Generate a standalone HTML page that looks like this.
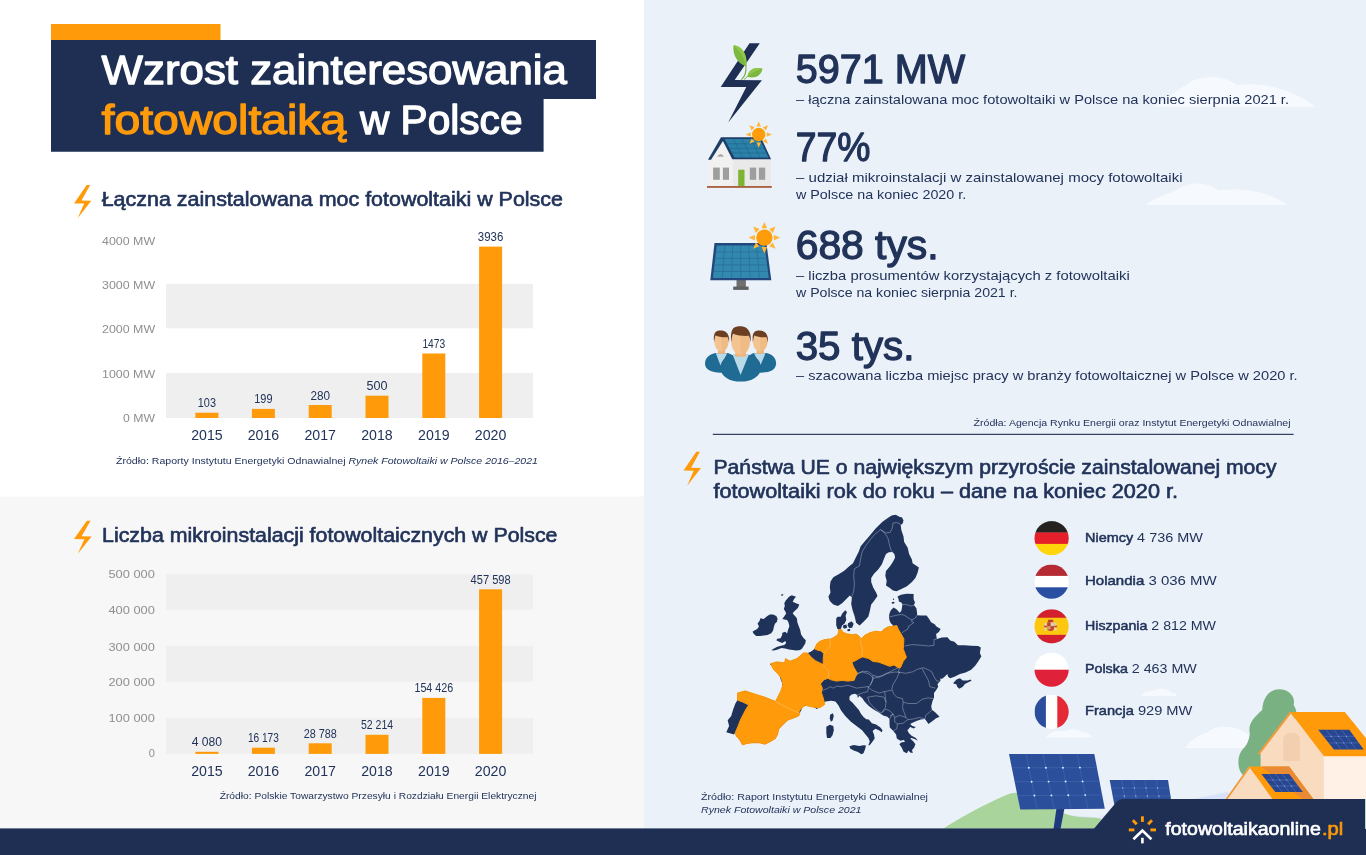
<!DOCTYPE html>
<html lang="pl"><head><meta charset="utf-8"><title>Wzrost zainteresowania fotowoltaiką w Polsce</title>
<style>
html,body{margin:0;padding:0;background:#fff;}
body{width:1366px;height:855px;overflow:hidden;}
svg{display:block;font-family:"Liberation Sans",sans-serif;}
</style></head><body>
<svg width="1366" height="855" viewBox="0 0 1366 855">
<g id="part_base">
<rect x="0" y="0" width="1366" height="855" fill="#ffffff"/>
<rect x="0" y="496.5" width="644" height="340" fill="#f7f7f7"/>
<rect x="644" y="0" width="722" height="855" fill="#eaf1f9"/>
<rect x="51" y="24" width="169.5" height="16" fill="#ff9a0a"/>
<polygon points="51,40 596,40 596,99 543.6,99 543.6,151.7 51,151.7" fill="#1e2f53"/>
<text x="101.6" y="83.5" font-size="40" fill="#ffffff" stroke="#ffffff" stroke-width="1.28" stroke-linejoin="round" textLength="465.4" lengthAdjust="spacingAndGlyphs">Wzrost zainteresowania</text>
<text x="101.6" y="133.5" font-size="40" stroke="#ff9a0a" stroke-width="1.28" stroke-linejoin="round" fill="#ff9a0a" textLength="244.7" lengthAdjust="spacingAndGlyphs">fotowoltaiką</text><text x="360" y="133.5" font-size="40" stroke="#ffffff" stroke-width="1.28" stroke-linejoin="round" fill="#ffffff" textLength="162.5" lengthAdjust="spacingAndGlyphs">w Polsce</text>
<polygon points="86.7,185.0 90.2,185.0 81.5,200.6 91.3,200.7 77.7,218.2 84.1,203.6 74.0,203.4" fill="#ff9a0a"/>
<text x="101.7" y="205.6" font-size="20" fill="#22335a" stroke="#22335a" stroke-width="0.64" stroke-linejoin="round" textLength="461.3" lengthAdjust="spacingAndGlyphs">Łączna zainstalowana moc fotowoltaiki w Polsce</text>
<rect x="166" y="283.8" width="367" height="44.5" fill="#efefef"/>
<rect x="166" y="372.9" width="367" height="45.1" fill="#efefef"/>
<text x="155.1" y="244.8" font-size="11" fill="#8f8f8f" text-anchor="end" textLength="53" lengthAdjust="spacingAndGlyphs">4000 MW</text>
<text x="155.1" y="288.8" font-size="11" fill="#8f8f8f" text-anchor="end" textLength="53" lengthAdjust="spacingAndGlyphs">3000 MW</text>
<text x="155.1" y="332.8" font-size="11" fill="#8f8f8f" text-anchor="end" textLength="53" lengthAdjust="spacingAndGlyphs">2000 MW</text>
<text x="155.1" y="377.6" font-size="11" fill="#8f8f8f" text-anchor="end" textLength="53" lengthAdjust="spacingAndGlyphs">1000 MW</text>
<text x="155.1" y="422.3" font-size="11" fill="#8f8f8f" text-anchor="end" textLength="32" lengthAdjust="spacingAndGlyphs">0 MW</text>
<rect x="195.4" y="412.7" width="23" height="5.3" fill="#ff9a0a"/>
<text x="206.9" y="407.2" font-size="12" fill="#22335a" text-anchor="middle" textLength="18.2" lengthAdjust="spacingAndGlyphs">103</text>
<text x="206.9" y="439.6" font-size="15.5" fill="#22335a" text-anchor="middle" textLength="31.5" lengthAdjust="spacingAndGlyphs">2015</text>
<rect x="251.9" y="408.9" width="23" height="9.1" fill="#ff9a0a"/>
<text x="263.4" y="403.4" font-size="12" fill="#22335a" text-anchor="middle" textLength="18.2" lengthAdjust="spacingAndGlyphs">199</text>
<text x="263.4" y="439.6" font-size="15.5" fill="#22335a" text-anchor="middle" textLength="31.5" lengthAdjust="spacingAndGlyphs">2016</text>
<rect x="308.7" y="405" width="23" height="13.0" fill="#ff9a0a"/>
<text x="320.2" y="399.5" font-size="12" fill="#22335a" text-anchor="middle" textLength="19.6" lengthAdjust="spacingAndGlyphs">280</text>
<text x="320.2" y="439.6" font-size="15.5" fill="#22335a" text-anchor="middle" textLength="31.5" lengthAdjust="spacingAndGlyphs">2017</text>
<rect x="365.5" y="395.7" width="23" height="22.3" fill="#ff9a0a"/>
<text x="377.0" y="390.2" font-size="12" fill="#22335a" text-anchor="middle" textLength="21" lengthAdjust="spacingAndGlyphs">500</text>
<text x="377.0" y="439.6" font-size="15.5" fill="#22335a" text-anchor="middle" textLength="31.5" lengthAdjust="spacingAndGlyphs">2018</text>
<rect x="422.3" y="353.5" width="23" height="64.5" fill="#ff9a0a"/>
<text x="433.8" y="348.0" font-size="12" fill="#22335a" text-anchor="middle" textLength="22.8" lengthAdjust="spacingAndGlyphs">1473</text>
<text x="433.8" y="439.6" font-size="15.5" fill="#22335a" text-anchor="middle" textLength="31.5" lengthAdjust="spacingAndGlyphs">2019</text>
<rect x="479.1" y="246.6" width="23" height="171.4" fill="#ff9a0a"/>
<text x="490.6" y="241.1" font-size="12" fill="#22335a" text-anchor="middle" textLength="25.5" lengthAdjust="spacingAndGlyphs">3936</text>
<text x="490.6" y="439.6" font-size="15.5" fill="#22335a" text-anchor="middle" textLength="31.5" lengthAdjust="spacingAndGlyphs">2020</text>
<text x="116" y="464" font-size="9.3" fill="#22335a" textLength="422" lengthAdjust="spacingAndGlyphs">Źródło: Raporty Instytutu Energetyki Odnawialnej <tspan font-style="italic">Rynek Fotowoltaiki w Polsce 2016–2021</tspan></text>
<polygon points="86.9,520.7 90.5,520.7 81.6,536.3 91.6,536.4 77.8,553.8 84.3,539.2 74.0,539.0" fill="#ff9a0a"/>
<text x="102.1" y="542.1" font-size="20" fill="#22335a" stroke="#22335a" stroke-width="0.64" stroke-linejoin="round" textLength="455.4" lengthAdjust="spacingAndGlyphs">Liczba mikroinstalacji fotowoltaicznych w Polsce</text>
<rect x="166" y="574.4" width="367" height="35.3" fill="#efefef"/>
<rect x="166" y="645.9" width="367" height="35.7" fill="#efefef"/>
<rect x="166" y="718" width="367" height="35.9" fill="#efefef"/>
<text x="154.8" y="578.3" font-size="11" fill="#8f8f8f" text-anchor="end" textLength="46.3" lengthAdjust="spacingAndGlyphs">500 000</text>
<text x="154.8" y="613.5" font-size="11" fill="#8f8f8f" text-anchor="end" textLength="46.3" lengthAdjust="spacingAndGlyphs">400 000</text>
<text x="154.8" y="650.7" font-size="11" fill="#8f8f8f" text-anchor="end" textLength="46.3" lengthAdjust="spacingAndGlyphs">300 000</text>
<text x="154.8" y="685.8" font-size="11" fill="#8f8f8f" text-anchor="end" textLength="46.3" lengthAdjust="spacingAndGlyphs">200 000</text>
<text x="154.8" y="721.5" font-size="11" fill="#8f8f8f" text-anchor="end" textLength="46.3" lengthAdjust="spacingAndGlyphs">100 000</text>
<text x="154.8" y="757.2" font-size="11" fill="#8f8f8f" text-anchor="end">0</text>
<rect x="195.4" y="751.8" width="23" height="2.1" fill="#ff9a0a"/>
<text x="206.9" y="746.3" font-size="12" fill="#22335a" text-anchor="middle" textLength="30.4" lengthAdjust="spacingAndGlyphs">4 080</text>
<text x="206.9" y="775.6" font-size="15.5" fill="#22335a" text-anchor="middle" textLength="31.5" lengthAdjust="spacingAndGlyphs">2015</text>
<rect x="251.9" y="747.7" width="23" height="6.2" fill="#ff9a0a"/>
<text x="263.4" y="742.2" font-size="12" fill="#22335a" text-anchor="middle" textLength="31" lengthAdjust="spacingAndGlyphs">16 173</text>
<text x="263.4" y="775.6" font-size="15.5" fill="#22335a" text-anchor="middle" textLength="31.5" lengthAdjust="spacingAndGlyphs">2016</text>
<rect x="308.7" y="743.3" width="23" height="10.6" fill="#ff9a0a"/>
<text x="320.2" y="737.8" font-size="12" fill="#22335a" text-anchor="middle" textLength="33.1" lengthAdjust="spacingAndGlyphs">28 788</text>
<text x="320.2" y="775.6" font-size="15.5" fill="#22335a" text-anchor="middle" textLength="31.5" lengthAdjust="spacingAndGlyphs">2017</text>
<rect x="365.5" y="734.8" width="23" height="19.1" fill="#ff9a0a"/>
<text x="377.0" y="729.3" font-size="12" fill="#22335a" text-anchor="middle" textLength="32.2" lengthAdjust="spacingAndGlyphs">52 214</text>
<text x="377.0" y="775.6" font-size="15.5" fill="#22335a" text-anchor="middle" textLength="31.5" lengthAdjust="spacingAndGlyphs">2018</text>
<rect x="422.3" y="697.9" width="23" height="56.0" fill="#ff9a0a"/>
<text x="433.8" y="692.4" font-size="12" fill="#22335a" text-anchor="middle" textLength="38.7" lengthAdjust="spacingAndGlyphs">154 426</text>
<text x="433.8" y="775.6" font-size="15.5" fill="#22335a" text-anchor="middle" textLength="31.5" lengthAdjust="spacingAndGlyphs">2019</text>
<rect x="479.1" y="589.3" width="23" height="164.6" fill="#ff9a0a"/>
<text x="490.6" y="583.8" font-size="12" fill="#22335a" text-anchor="middle" textLength="40.1" lengthAdjust="spacingAndGlyphs">457 598</text>
<text x="490.6" y="775.6" font-size="15.5" fill="#22335a" text-anchor="middle" textLength="31.5" lengthAdjust="spacingAndGlyphs">2020</text>
<text x="219.7" y="799.3" font-size="9.3" fill="#22335a" textLength="316.8" lengthAdjust="spacingAndGlyphs">Źródło: Polskie Towarzystwo Przesyłu i Rozdziału Energii Elektrycznej</text>
</g>
<g id="part_clouds">
<path d="M1153.6 106.7C1164.3 99.9 1175.9 91.2 1185.7 85.3C1197.4 74.6 1222.7 73.6 1237.3 85.3C1255.8 82.4 1287.0 85.3 1315.2 106.7Z" fill="#f6fafe"/>
<path d="M1145.8 205.1C1156.5 196.3 1168.2 194.4 1177.9 189.5C1187.6 181.7 1205.2 180.7 1218.8 190.5C1240.2 187.6 1267.5 190.5 1287.9 205.1Z" fill="#f6fafe"/>
</g>
<g id="part_map">
<polygon points="726.3,732.3 729.1,725.9 727.7,720.3 731.2,716.1 733.3,709.1 735.4,703.5 737.5,700.0 737.5,693.0 745.3,690.9 753.7,693.7 764.9,697.2 775.4,701.4 778.9,695.1 781.7,690.2 782.4,683.8 780.3,678.2 778.9,672.6 775.4,667.7 769.8,664.2 770.8,663.5 776.5,661.9 784.7,662.7 785.5,658.6 788.0,660.2 790.4,661.1 797.0,658.6 803.5,652.9 807.7,653.0 811.2,651.6 814.7,648.8 816.8,643.9 819.6,641.5 824.6,639.6 830.2,638.9 833.7,637.5 837.9,634.7 839.0,629.8 837.3,628.8 836.2,624.9 836.2,618.6 837.6,616.8 840.7,616.8 842.1,613.7 845.2,610.2 847.0,612.0 845.6,615.8 846.3,620.0 844.6,623.5 842.1,625.6 841.0,628.8 840.7,629.1 843.5,632.6 847.7,634.0 853.3,634.7 856.1,634.0 858.9,636.1 861.1,638.9 864.6,635.4 870.2,632.6 875.8,631.2 881.4,631.9 884.2,629.1 887.7,627.0 892.6,626.3 893.2,625.4 890.8,623.2 889.4,620.1 889.0,616.6 889.4,613.8 890.8,610.3 893.6,607.5 896.8,609.6 899.6,612.7 901.3,611.0 902.0,607.5 902.4,604.3 901.3,602.5 898.9,601.5 898.5,599.0 897.5,596.6 901.0,594.8 906.6,593.8 913.6,594.1 913.6,599.0 915.0,602.5 913.9,605.0 916.4,608.2 917.1,613.1 917.1,615.2 921.3,615.5 926.6,615.5 929.0,618.7 931.1,622.2 935.0,624.6 936.1,626.3 940.6,629.1 938.9,631.9 936.1,634.0 936.8,638.9 941.8,637.5 947.4,637.3 950.2,640.4 954.4,641.8 957.9,645.3 964.2,645.3 971.2,645.7 978.2,646.0 980.8,647.4 979.9,653.0 981.3,656.5 978.2,661.4 975.4,665.6 971.2,669.8 965.6,672.6 960.0,674.0 954.4,676.8 950.2,678.2 948.1,676.8 947.4,674.0 944.6,676.8 941.8,678.9 940.4,678.2 940.4,681.1 937.5,683.9 938.2,686.7 936.1,690.2 934.0,693.0 934.0,697.9 932.6,700.7 931.2,706.3 931.9,709.8 935.4,712.6 939.6,716.8 936.1,718.2 932.6,721.1 928.4,723.9 927.0,721.8 924.9,718.9 920.7,719.6 916.5,721.1 913.0,722.5 910.2,723.9 912.3,726.0 915.8,727.1 913.7,728.5 910.2,727.1 908.8,728.8 907.4,730.2 908.8,733.0 911.6,735.8 915.8,737.9 917.9,740.7 915.1,739.3 911.6,737.9 910.2,738.6 913.4,741.4 915.4,744.2 914.0,747.7 912.0,750.1 912.8,752.9 910.2,752.6 908.4,750.5 906.9,753.2 903.6,751.8 901.8,747.7 899.4,744.2 901.1,742.5 905.0,741.8 903.9,740.0 900.4,740.7 896.8,738.6 896.1,734.4 893.3,730.9 889.8,727.4 889.5,723.2 889.5,718.9 887.4,716.8 883.2,715.4 878.9,712.6 874.0,709.8 869.1,706.3 864.9,702.1 862.1,697.9 859.3,695.8 857.9,697.9 857.2,695.1 855.1,693.7 851.6,694.4 849.5,696.5 849.5,700.0 852.6,702.8 855.8,706.6 858.9,710.0 861.1,714.0 863.8,717.3 866.3,719.2 868.8,719.6 871.9,723.2 876.1,724.6 880.4,727.4 882.5,730.2 881.8,732.3 878.9,730.2 875.4,728.8 872.6,730.9 874.0,734.4 874.7,738.6 872.6,741.4 870.5,744.2 869.1,745.6 868.4,744.9 869.8,741.4 868.4,737.9 864.9,733.7 862.1,730.2 856.5,726.0 850.9,721.8 845.3,716.1 841.1,710.5 838.2,704.9 835.4,701.4 831.2,700.7 825.6,701.4 822.1,704.2 821.0,706.3 816.8,709.1 812.6,706.3 807.0,704.9 802.8,707.0 800.0,712.6 798.6,716.1 793.0,718.2 787.3,720.3 783.1,724.5 778.9,728.7 777.5,734.4 775.4,738.6 770.5,741.4 764.9,744.2 759.3,742.8 752.3,742.8 746.7,743.5 742.4,744.9 740.3,740.7 736.1,735.8 735.4,732.3 734.0,734.4" fill="#1f3259"/>
<polygon points="833.3,604.6 829.8,601.1 828.4,596.8 830.5,592.6 829.8,587.0 830.5,581.4 833.3,577.2 838.2,574.4 843.9,570.9 849.5,566.0 853.0,563.2 855.8,557.5 858.6,551.9 860.7,546.3 864.2,542.1 867.7,537.9 871.9,533.0 875.4,528.8 878.9,525.3 882.5,521.8 887.4,518.2 891.6,515.4 895.8,514.7 899.3,516.8 902.1,517.5 903.5,520.4 902.8,523.2 900.7,525.3 901.4,530.2 903.5,536.5 904.2,542.1 907.7,547.7 909.1,554.0 911.9,559.6 912.6,563.2 918.9,567.4 917.5,573.0 915.4,577.9 911.9,582.1 907.0,586.3 901.4,589.1 896.5,591.2 893.0,590.5 889.5,587.7 886.0,585.6 886.7,580.7 885.3,575.8 886.0,570.9 890.2,566.0 893.0,561.8 895.1,557.5 894.4,554.0 892.3,551.9 888.8,552.2 886.0,554.0 883.9,558.9 881.8,564.6 878.2,569.5 874.0,573.7 871.2,577.9 871.2,582.1 873.3,587.7 876.1,592.6 877.5,596.1 874.0,601.1 871.2,604.6 869.8,610.9 868.4,616.5 866.0,619.3 862.5,622.8 859.6,625.6 856.1,622.8 854.7,616.5 852.6,610.2 851.2,603.9 851.9,597.5 849.8,595.4 846.3,598.9 842.1,603.2 837.9,606.0" fill="#1f3259"/>
<polygon points="843.2,625.2 846.3,624.4 847.3,627.4 844.6,628.7 842.9,627.4" fill="#1f3259"/>
<polygon points="848.0,623.2 851.6,621.3 853.6,623.8 852.2,627.7 849.1,628.0 847.7,625.6" fill="#1f3259"/>
<polygon points="847.2,629.4 850.2,628.8 850.0,631.1 847.7,631.2" fill="#1f3259"/>
<polygon points="891.5,602.5 893.2,601.8 894.8,602.2 893.9,603.4 892.2,603.8" fill="#1f3259"/>
<polygon points="892.9,598.7 893.8,598.5 894.1,599.9 893.1,600.1" fill="#1f3259"/>
<polygon points="789.0,596.7 791.8,595.3 796.0,596.7 794.1,599.0 792.7,601.8 796.0,603.2 799.3,604.6 797.9,607.9 795.5,610.3 793.6,612.1 792.7,613.5 795.0,615.9 796.9,618.2 797.4,622.4 798.8,626.2 800.2,629.9 801.1,634.6 803.5,637.9 805.8,640.2 805.3,643.5 803.5,646.3 802.1,648.6 800.2,650.0 796.4,650.5 792.7,650.0 789.0,649.5 785.2,648.6 781.5,648.1 777.7,649.5 774.0,650.5 771.2,650.3 774.0,648.6 777.3,646.7 781.0,645.8 784.3,644.9 786.2,643.0 785.2,641.1 782.4,643.0 779.6,642.1 776.3,640.2 777.3,638.8 780.5,638.3 782.0,635.5 782.4,632.7 785.2,631.8 787.1,633.6 788.0,629.9 789.4,626.2 788.5,622.4 787.1,620.1 784.3,619.6 782.4,619.1 784.3,616.3 786.2,613.5 785.2,611.2 783.8,608.9 784.8,606.0 784.3,603.2 785.7,600.4 787.6,598.6" fill="#1f3259"/>
<polygon points="781.0,594.8 782.9,593.9 783.4,595.1 781.7,596.0" fill="#1f3259"/>
<polygon points="752.5,631.8 754.4,630.4 757.2,629.0 759.0,626.6 757.6,623.4 759.5,621.0 760.4,618.2 763.7,619.1 767.0,616.3 769.8,614.5 773.1,614.5 776.3,615.9 777.6,618.7 776.8,622.0 774.9,623.8 774.0,626.6 773.1,630.4 771.2,633.2 767.5,635.0 763.7,635.5 760.0,636.0 756.2,636.0 753.9,634.1" fill="#1f3259"/>
<polygon points="830.1,714.7 832.9,713.3 833.8,716.1 832.6,720.4 830.9,721.8 829.8,718.2" fill="#1f3259"/>
<polygon points="826.3,726.7 829.8,724.8 833.3,726.0 833.8,730.2 832.6,735.1 830.5,737.9 827.0,737.9 826.3,733.0" fill="#1f3259"/>
<polygon points="849.5,746.3 853.7,744.9 859.3,745.9 863.5,745.3 866.0,745.6 864.9,749.8 863.5,753.3 861.4,754.3 857.9,751.9 853.7,750.5 850.2,748.4" fill="#1f3259"/>
<polygon points="953.0,683.2 956.5,679.6 960.0,678.2 962.8,680.4 967.7,680.4 970.5,679.4 971.5,680.8 968.4,682.2 964.9,683.9 962.8,686.7 959.3,688.8 957.2,686.7 956.5,684.6" fill="#1f3259"/>
<path d="M851.6 596.8 L853.7 591.2 L854.4 584.2 L853.7 575.8 L854.4 568.8 L859.3 566.0 L860.7 558.9 L862.1 551.9 L866.3 544.9 L870.5 539.3 L874.7 534.4 L878.2 531.6 L880.4 529.5 L885.3 533.7 L888.1 538.6 L889.5 544.9 L890.9 549.8 L892.3 551.9 M880.4 529.5 L886.0 533.0 L890.2 532.3 L892.3 528.1 L893.0 523.2 L896.5 522.5 L900.0 523.9 L900.7 525.3 M902.4 604.3 L906.6 604.6 L910.8 606.1 L913.9 605.4 M889.4 616.9 L893.9 615.9 L898.9 614.8 L902.4 614.5 L905.9 616.2 L909.4 618.7 L912.2 619.7 L915.4 618.0 L917.1 615.2 M912.2 619.7 L911.5 621.5 L913.9 622.5 L911.5 624.3 L908.7 626.1 L908.0 628.9 L904.5 631.0 L902.0 632.7 M904.6 646.0 L912.3 644.6 L922.1 645.3 L928.4 646.0 L934.0 645.3 L934.0 639.6 L936.8 638.9 M899.6 667.7 L898.2 671.9 L905.3 673.3 L912.3 671.9 L917.9 669.1 L923.5 667.7 L928.4 669.8 L931.9 671.9 L934.0 676.8 L936.8 681.1 L939.6 681.1 M922.1 668.4 L924.9 674.0 L928.4 680.4 L929.8 686.7 L935.4 688.1 M903.2 702.1 L908.1 703.5 L916.5 703.5 L922.1 699.3 L927.7 697.9 L934.0 698.6 M899.6 671.9 L896.8 678.2 L892.6 685.3 L891.9 689.5 L894.0 694.4 L896.8 697.2 L902.5 698.6 L903.2 702.1 L902.5 707.7 L903.9 711.9 L906.0 717.5 M931.9 709.8 L929.1 712.6 L925.6 715.4 L924.9 718.9 L919.3 717.5 L913.7 718.9 L908.1 719.6 L906.0 717.5 L899.6 715.4 L894.7 717.5 L894.7 721.8 L897.5 723.9 L903.2 723.2 L906.7 720.4 L908.1 719.6 M889.8 716.1 L893.3 714.0 L894.7 717.5 M897.5 723.9 L896.8 728.8 L893.3 730.9 M822.8 690.2 L827.0 688.8 L829.8 686.7 L833.3 688.1 L836.8 686.0 L840.4 686.7 L848.1 685.3 L856.5 688.1 L862.1 687.4 L867.7 686.7 M854.4 675.4 L862.1 671.9 L869.1 674.0 L873.3 678.2 L871.2 683.2 L869.1 686.7 L867.7 686.7 L868.4 687.4 L867.7 691.6 L862.1 693.0 L857.2 695.1 M873.3 678.2 L880.4 676.8 L887.4 673.3 L895.8 671.9 L900.0 672.6 M867.7 686.7 L871.9 690.2 L878.9 693.0 L884.6 691.6 L891.6 690.2 M867.7 697.2 L876.1 695.8 L883.9 697.2 L886.0 702.1 L885.3 707.7 L881.8 712.6 L878.9 711.9 M867.7 697.2 L869.1 702.1 L874.0 707.7 L878.9 711.9 M884.6 691.6 L885.3 696.5 L886.0 702.1 M881.8 712.6 L886.0 709.1 L890.2 711.2 L893.0 714.0 L889.5 718.9 M854.0 680.4 L855.4 676.8 L857.5 673.3 L863.2 671.2 L868.8 671.9 L873.0 675.4 L878.6 676.8 L884.2 674.7 L889.8 671.9 L895.4 669.1 L898.2 667.7 M873.0 675.4 L872.3 681.1 L870.2 685.3 M828.1 678.2 L823.9 679.6 L820.4 683.9 M737.5 700.0 L743.1 702.1 L748.8 704.9" fill="none" stroke="#c3cce0" stroke-width="0.5" stroke-linejoin="round" opacity="0.85"/>
<polygon points="737.5,693.0 745.3,690.9 753.7,693.7 764.9,697.2 775.4,701.4 781.7,704.9 790.1,709.1 796.5,711.9 800.0,713.3 798.6,716.1 793.0,718.2 787.3,720.3 783.1,724.5 778.9,728.7 777.5,734.4 775.4,738.6 770.5,741.4 764.9,744.2 759.3,742.8 752.3,742.8 746.7,743.5 742.4,744.9 740.3,740.7 736.1,735.8 735.4,732.3 738.2,725.9 740.3,720.3 743.1,714.7 746.0,709.1 748.8,704.9 743.1,702.1 737.5,700.0" fill="#ff9a0a" stroke="#ff9a0a" stroke-width="1" stroke-linejoin="round"/>
<polygon points="770.8,663.5 776.5,661.9 784.7,662.7 785.5,658.6 788.0,660.2 790.4,661.1 797.0,658.6 803.5,652.9 807.7,653.0 811.2,657.2 815.4,660.7 819.6,662.8 822.5,664.2 825.3,667.7 828.8,671.2 828.1,678.2 823.9,679.6 820.4,683.9 822.3,688.1 821.5,693.0 823.2,697.9 824.8,704.4 819.9,707.7 811.7,706.9 805.1,705.3 800.2,709.4 798.6,712.6 792.0,711.0 785.5,708.5 778.9,704.4 775.7,701.2 780.6,691.3 783.0,684.8 781.4,678.2 777.3,673.3 773.2,669.2" fill="#ff9a0a" stroke="#ff9a0a" stroke-width="1" stroke-linejoin="round"/>
<polygon points="814.7,648.8 816.8,643.9 819.6,641.5 824.6,639.6 830.2,638.9 830.2,646.0 827.4,649.5 823.9,653.0 823.2,653.0 821.1,650.9 817.5,650.2" fill="#ff9a0a" stroke="#ff9a0a" stroke-width="1" stroke-linejoin="round"/>
<polygon points="830.2,639.6 833.7,637.5 837.9,634.7 839.0,629.8 840.7,629.1 843.5,632.6 847.7,634.0 853.3,634.7 856.1,634.0 858.9,636.1 861.1,638.9 860.6,643.2 862.5,648.8 861.8,654.4 862.5,656.9 858.9,658.6 855.4,660.7 851.9,662.1 853.3,666.3 856.1,671.2 857.5,673.3 855.4,676.8 854.0,680.4 847.7,681.1 842.1,680.4 836.5,681.1 830.2,679.6 828.1,678.2 828.8,671.2 825.3,667.7 823.2,664.2 823.2,658.6 823.9,653.0 827.4,649.5 830.2,646.0" fill="#ff9a0a" stroke="#ff9a0a" stroke-width="1" stroke-linejoin="round"/>
<polygon points="861.1,638.9 864.6,635.4 870.2,632.6 875.8,631.2 881.4,631.9 884.2,629.1 887.7,627.0 892.6,626.3 896.8,625.6 898.2,629.1 901.1,634.0 903.9,638.9 903.6,644.6 903.2,648.8 905.3,654.4 906.4,657.2 903.2,661.4 900.4,667.7 898.2,667.7 894.0,664.9 889.8,666.3 884.2,664.2 878.6,662.1 873.0,661.4 868.8,658.6 862.5,656.9 861.8,654.4 862.5,648.8 860.6,643.2" fill="#ff9a0a" stroke="#ff9a0a" stroke-width="1" stroke-linejoin="round"/>
<path d="M775.4 701.4 L781.7 704.9 L790.1 709.1 L796.5 711.9 L800.0 713.3 M822.5 664.2 L825.3 667.7 L828.8 671.2 L828.1 678.2 M830.2 638.9 L830.2 646.0 L827.4 649.5 L823.9 653.0 M861.1 638.9 L860.6 643.2 L862.5 648.8 L861.8 654.4 L862.5 656.9" fill="none" stroke="#ffd9a0" stroke-width="0.45" stroke-linejoin="round" opacity="0.9"/>
</g>
<g id="part_illus">
<path d="M1141.1 696.0C1144.6 691.6 1149.0 689.6 1154.9 690.7C1159.3 687.2 1168.0 687.8 1171.0 692.5C1174.5 692.5 1176.8 694.2 1177.4 696.0Z" fill="#f6fafe"/>
<path d="M1045.6 737.6C1049.5 732.6 1056.8 729.7 1064.1 731.7C1068.5 728.2 1078.7 728.2 1083.1 732.6C1087.5 732.6 1091.3 734.6 1092.5 737.6Z" fill="#f6fafe"/>
<path d="M1185.0 748.1C1190.0 739.9 1200.3 734.1 1210.5 731.7C1217.8 726.7 1231.0 726.7 1238.3 731.7C1244.2 731.7 1249.5 735.5 1251.5 739.9L1251.5 748.1Z" fill="#f6fafe"/>
<path d="M1200.0 746.9L1200.0 736.3C1204.1 735.5 1207.4 733.0 1209.8 730.6C1216.4 725.7 1232.7 724.8 1243.4 731.4C1247.5 733.0 1249.9 735.5 1249.9 738.8C1249.9 743.7 1247.5 746.9 1244.2 746.9Z" fill="#f6fafe"/>
<path d="M1063.0 817.5C1073.5 814.3 1084.1 816.4 1098.1 817.5C1108.7 812.6 1122.7 807.3 1133.3 803.8L1133.3 828.4L1063.0 828.4Z" fill="#dfe7fb"/>
<path d="M1190.2 799.3C1203.3 796.9 1216.4 794.4 1227.8 792.0L1232.7 801.0L1190.2 801.0Z" fill="#d9e2fb"/>
<path d="M943.5 828.4C966.4 814.3 992.7 800.3 1010.3 793.6C1022.6 789.7 1038.4 800.3 1054.2 809.1C1066.5 816.1 1078.8 817.8 1094.6 817.8C1101.6 817.8 1106.9 821.4 1112.2 828.4Z" fill="#a9d49b"/>
<path d="M1279.4 689.3C1289.2 689.3 1295.8 697.0 1293.6 705.2C1298.2 710.9 1296.6 719.1 1291.7 724.0L1291.7 774.8L1242.6 774.8C1236.8 768.2 1236.8 755.1 1243.4 748.6C1247.5 744.5 1249.1 738.8 1249.9 733.9C1247.5 724.0 1254.0 717.5 1262.2 710.1C1263.0 696.2 1270.4 689.3 1279.4 689.3Z" fill="#79b183"/>
<polygon points="1258.1,753.8 1290.0,712.2 1323.9,756.3 1323.9,801.0 1260.6,801.0 1260.6,753.8" fill="#f9dcc0"/>
<polygon points="1257.6,753.8 1289.7,711.9 1291.0,713.5 1259.9,754.2" fill="#f09a3a"/>
<rect x="1323.9" y="756.0" width="43.1" height="45.0" fill="#fff1e6"/>
<polygon points="1290.0,711.9 1344.9,711.9 1367.0,739.6 1367.0,756.3 1323.9,756.3" fill="#ff9a0a"/>
<path d="M1283.2 760.9L1283.2 740.4C1283.2 734.7 1286.8 732.7 1291.5 732.7C1296.6 732.7 1299.9 734.7 1299.9 740.4L1299.9 760.9Z" fill="#f2cfae"/>
<polygon points="1226.2,798.5 1249.1,766.6 1272.0,798.5 1272.0,801.0 1226.2,801.0" fill="#f9dcc0"/>
<polygon points="1249.1,766.6 1289.2,766.6 1313.0,798.5 1313.0,801.0 1272.0,801.0 1272.0,798.5" fill="#ff9a0a"/>
<polygon points="1261.4,766.6 1289.2,766.6 1313.0,798.5 1313.0,801.0 1304.8,801.0" fill="#e98a35"/>
<polygon points="1225.7,798.8 1248.8,766.6 1250.1,767.7 1227.5,799.3" fill="#f09a3a"/>
<polygon points="1318.2,729.8 1349.3,729.8 1363.7,749.4 1333.9,749.4" fill="#27468f"/>
<line x1="1326.0" y1="729.8" x2="1341.4" y2="749.4" stroke="#5b7cc4" stroke-width="0.5"/>
<line x1="1333.8" y1="729.8" x2="1348.8" y2="749.4" stroke="#5b7cc4" stroke-width="0.5"/>
<line x1="1341.5" y1="729.8" x2="1356.2" y2="749.4" stroke="#5b7cc4" stroke-width="0.5"/>
<line x1="1323.4" y1="736.3" x2="1354.1" y2="736.3" stroke="#5b7cc4" stroke-width="0.5"/>
<line x1="1328.7" y1="742.9" x2="1358.9" y2="742.9" stroke="#5b7cc4" stroke-width="0.5"/>
<circle cx="1331.1" cy="736.3" r="0.45" fill="#e8f0ff"/>
<circle cx="1336.2" cy="742.9" r="0.45" fill="#e8f0ff"/>
<circle cx="1338.8" cy="736.3" r="0.45" fill="#e8f0ff"/>
<circle cx="1343.8" cy="742.9" r="0.45" fill="#e8f0ff"/>
<circle cx="1346.4" cy="736.3" r="0.45" fill="#e8f0ff"/>
<circle cx="1351.3" cy="742.9" r="0.45" fill="#e8f0ff"/>
<polygon points="1261.4,774.0 1289.2,774.0 1302.8,792.0 1275.3,792.0" fill="#27468f"/>
<line x1="1268.4" y1="774.0" x2="1282.2" y2="792.0" stroke="#5b7cc4" stroke-width="0.5"/>
<line x1="1275.3" y1="774.0" x2="1289.0" y2="792.0" stroke="#5b7cc4" stroke-width="0.5"/>
<line x1="1282.2" y1="774.0" x2="1295.9" y2="792.0" stroke="#5b7cc4" stroke-width="0.5"/>
<line x1="1266.0" y1="780.0" x2="1293.7" y2="780.0" stroke="#5b7cc4" stroke-width="0.5"/>
<line x1="1270.7" y1="786.0" x2="1298.3" y2="786.0" stroke="#5b7cc4" stroke-width="0.5"/>
<circle cx="1273.0" cy="780.0" r="0.45" fill="#e8f0ff"/>
<circle cx="1277.6" cy="786.0" r="0.45" fill="#e8f0ff"/>
<circle cx="1279.9" cy="780.0" r="0.45" fill="#e8f0ff"/>
<circle cx="1284.5" cy="786.0" r="0.45" fill="#e8f0ff"/>
<circle cx="1286.8" cy="780.0" r="0.45" fill="#e8f0ff"/>
<circle cx="1291.4" cy="786.0" r="0.45" fill="#e8f0ff"/>
<polygon points="1056.5,808 1064.5,808 1060.5,829 1053.5,829" fill="#1f3b7d"/>
<polygon points="1009,753.9 1094.3,753.9 1104.8,808.7 1020.3,809.6" fill="#2c4f9b"/>
<line x1="1026.1" y1="753.9" x2="1037.2" y2="809.4" stroke="#4a6fb8" stroke-width="0.5"/>
<line x1="1043.1" y1="753.9" x2="1054.1" y2="809.2" stroke="#4a6fb8" stroke-width="0.5"/>
<line x1="1060.2" y1="753.9" x2="1071.0" y2="809.1" stroke="#4a6fb8" stroke-width="0.5"/>
<line x1="1077.2" y1="753.9" x2="1087.9" y2="808.9" stroke="#4a6fb8" stroke-width="0.5"/>
<line x1="1011.8" y1="767.8" x2="1096.9" y2="767.6" stroke="#4a6fb8" stroke-width="0.5"/>
<line x1="1014.6" y1="781.8" x2="1099.5" y2="781.3" stroke="#4a6fb8" stroke-width="0.5"/>
<line x1="1017.5" y1="795.7" x2="1102.2" y2="795.0" stroke="#4a6fb8" stroke-width="0.5"/>
<circle cx="1028.8" cy="767.8" r="0.95" fill="#e8f0ff"/>
<circle cx="1031.6" cy="781.7" r="0.95" fill="#e8f0ff"/>
<circle cx="1034.4" cy="795.5" r="0.95" fill="#e8f0ff"/>
<circle cx="1045.9" cy="767.7" r="0.95" fill="#e8f0ff"/>
<circle cx="1048.6" cy="781.6" r="0.95" fill="#e8f0ff"/>
<circle cx="1051.4" cy="795.4" r="0.95" fill="#e8f0ff"/>
<circle cx="1062.9" cy="767.7" r="0.95" fill="#e8f0ff"/>
<circle cx="1065.6" cy="781.5" r="0.95" fill="#e8f0ff"/>
<circle cx="1068.3" cy="795.3" r="0.95" fill="#e8f0ff"/>
<circle cx="1079.9" cy="767.6" r="0.95" fill="#e8f0ff"/>
<circle cx="1082.6" cy="781.4" r="0.95" fill="#e8f0ff"/>
<circle cx="1085.2" cy="795.1" r="0.95" fill="#e8f0ff"/>
<polygon points="1109.7,780 1168,780 1173,812 1115.7,812" fill="#2c4f9b"/>
<line x1="1121.4" y1="780.0" x2="1127.2" y2="812.0" stroke="#4a6fb8" stroke-width="0.5"/>
<line x1="1133.0" y1="780.0" x2="1138.6" y2="812.0" stroke="#4a6fb8" stroke-width="0.5"/>
<line x1="1144.7" y1="780.0" x2="1150.1" y2="812.0" stroke="#4a6fb8" stroke-width="0.5"/>
<line x1="1156.3" y1="780.0" x2="1161.5" y2="812.0" stroke="#4a6fb8" stroke-width="0.5"/>
<line x1="1111.2" y1="788.0" x2="1169.2" y2="788.0" stroke="#4a6fb8" stroke-width="0.5"/>
<line x1="1112.7" y1="796.0" x2="1170.5" y2="796.0" stroke="#4a6fb8" stroke-width="0.5"/>
<line x1="1114.2" y1="804.0" x2="1171.8" y2="804.0" stroke="#4a6fb8" stroke-width="0.5"/>
<circle cx="1122.8" cy="788.0" r="0.6" fill="#e8f0ff"/>
<circle cx="1124.3" cy="796.0" r="0.6" fill="#e8f0ff"/>
<circle cx="1125.7" cy="804.0" r="0.6" fill="#e8f0ff"/>
<circle cx="1134.4" cy="788.0" r="0.6" fill="#e8f0ff"/>
<circle cx="1135.8" cy="796.0" r="0.6" fill="#e8f0ff"/>
<circle cx="1137.2" cy="804.0" r="0.6" fill="#e8f0ff"/>
<circle cx="1146.0" cy="788.0" r="0.6" fill="#e8f0ff"/>
<circle cx="1147.4" cy="796.0" r="0.6" fill="#e8f0ff"/>
<circle cx="1148.7" cy="804.0" r="0.6" fill="#e8f0ff"/>
<circle cx="1157.6" cy="788.0" r="0.6" fill="#e8f0ff"/>
<circle cx="1158.9" cy="796.0" r="0.6" fill="#e8f0ff"/>
<circle cx="1160.2" cy="804.0" r="0.6" fill="#e8f0ff"/>
</g>
<g id="part_footer">
<rect x="0" y="828.4" width="1366" height="27" fill="#1e2f53"/>
<rect x="1364.8" y="798.8" width="1.2" height="30" fill="#b9dcc0"/>
<path d="M1093.7,829 L1117,801.5 Q1119,799 1123,799 L1365,799 L1365,829 Z" fill="#1e2f53"/>
<line x1="1134.4" y1="829.9" x2="1128.8" y2="829.9" stroke="#ff9a0a" stroke-width="2.9"/>
<line x1="1136.7" y1="824.2" x2="1132.8" y2="820.3" stroke="#ff9a0a" stroke-width="2.9"/>
<line x1="1142.4" y1="821.9" x2="1142.4" y2="816.3" stroke="#ff9a0a" stroke-width="2.9"/>
<line x1="1148.1" y1="824.2" x2="1152.0" y2="820.3" stroke="#ff9a0a" stroke-width="2.9"/>
<line x1="1150.4" y1="829.9" x2="1156.0" y2="829.9" stroke="#ff9a0a" stroke-width="2.9"/>
<polyline points="1133.4,839.3 1142.4,830.6 1151.4,839.3" fill="none" stroke="#ffffff" stroke-width="2.6" stroke-linejoin="miter"/>
<rect x="1141.1" y="837.8" width="2.6" height="5.6" fill="#ffffff"/>
<text x="1165.3" y="835.3" font-size="18" stroke="#ffffff" stroke-width="0.65" stroke-linejoin="round" fill="#ffffff" textLength="155.5" lengthAdjust="spacingAndGlyphs">fotowoltaikaonline</text>
<text x="1322" y="835.3" font-size="18" stroke="#ff9a0a" stroke-width="0.65" stroke-linejoin="round" fill="#ff9a0a" textLength="21.3" lengthAdjust="spacingAndGlyphs">.pl</text>
</g>
<g id="part_right">
<text x="795.7" y="82.8" font-size="40" fill="#22335a" stroke="#22335a" stroke-width="1.28" stroke-linejoin="round" textLength="169.3" lengthAdjust="spacingAndGlyphs">5971 MW</text>
<text x="796" y="103.7" font-size="13.5" fill="#22335a" textLength="493" lengthAdjust="spacingAndGlyphs">– łączna zainstalowana moc fotowoltaiki w Polsce na koniec sierpnia 2021 r.</text>
<text x="795.7" y="160.9" font-size="40" fill="#22335a" stroke="#22335a" stroke-width="1.28" stroke-linejoin="round" textLength="74.7" lengthAdjust="spacingAndGlyphs">77%</text>
<text x="796" y="182.2" font-size="13.5" fill="#22335a" textLength="386.5" lengthAdjust="spacingAndGlyphs">– udział mikroinstalacji w zainstalowanej mocy fotowoltaiki</text>
<text x="796" y="198.9" font-size="13.5" fill="#22335a" textLength="170.2" lengthAdjust="spacingAndGlyphs">w Polsce na koniec 2020 r.</text>
<text x="795.7" y="258.8" font-size="40" fill="#22335a" stroke="#22335a" stroke-width="1.28" stroke-linejoin="round" textLength="142.9" lengthAdjust="spacingAndGlyphs">688 tys.</text>
<text x="796" y="280.4" font-size="13.5" fill="#22335a" textLength="333.7" lengthAdjust="spacingAndGlyphs">– liczba prosumentów korzystających z fotowoltaiki</text>
<text x="796" y="296.9" font-size="13.5" fill="#22335a" textLength="221.5" lengthAdjust="spacingAndGlyphs">w Polsce na koniec sierpnia 2021 r.</text>
<text x="795.7" y="359.5" font-size="40" fill="#22335a" stroke="#22335a" stroke-width="1.28" stroke-linejoin="round" textLength="118.7" lengthAdjust="spacingAndGlyphs">35 tys.</text>
<text x="796" y="379.8" font-size="13.5" fill="#22335a" textLength="501.7" lengthAdjust="spacingAndGlyphs">– szacowana liczba miejsc pracy w branży fotowoltaicznej w Polsce w 2020 r.</text>
<text x="1290.6" y="425.8" font-size="9.3" fill="#22335a" text-anchor="end" textLength="317" lengthAdjust="spacingAndGlyphs">Źródła: Agencja Rynku Energii oraz Instytut Energetyki Odnawialnej</text>
<rect x="712.8" y="433.8" width="580.8" height="1.1" fill="#1e2f53"/>
<polygon points="696.3,451.8 699.9,451.8 691.1,467.8 701.0,467.9 687.2,485.8 693.7,470.8 683.5,470.6" fill="#ff9a0a"/>
<text x="713.5" y="474.1" font-size="20" fill="#22335a" stroke="#22335a" stroke-width="0.64" stroke-linejoin="round" textLength="563" lengthAdjust="spacingAndGlyphs">Państwa UE o największym przyroście zainstalowanej mocy</text>
<text x="713.5" y="498.2" font-size="20" fill="#22335a" stroke="#22335a" stroke-width="0.64" stroke-linejoin="round" textLength="464.5" lengthAdjust="spacingAndGlyphs">fotowoltaiki rok do roku – dane na koniec 2020 r.</text>
<text x="1085" y="541.7" font-size="13.3" fill="#22335a" textLength="117.9" lengthAdjust="spacingAndGlyphs"><tspan stroke="#22335a" stroke-width="0.5" stroke-linejoin="round">Niemcy</tspan> 4 736 MW</text>
<text x="1085" y="585.1" font-size="13.3" fill="#22335a" textLength="131.8" lengthAdjust="spacingAndGlyphs"><tspan stroke="#22335a" stroke-width="0.5" stroke-linejoin="round">Holandia</tspan> 3 036 MW</text>
<text x="1085" y="629.8" font-size="13.3" fill="#22335a" textLength="131" lengthAdjust="spacingAndGlyphs"><tspan stroke="#22335a" stroke-width="0.5" stroke-linejoin="round">Hiszpania</tspan> 2 812 MW</text>
<text x="1085" y="673.2" font-size="13.3" fill="#22335a" textLength="111.8" lengthAdjust="spacingAndGlyphs"><tspan stroke="#22335a" stroke-width="0.5" stroke-linejoin="round">Polska</tspan> 2 463 MW</text>
<text x="1085" y="715.3" font-size="13.3" fill="#22335a" textLength="107.4" lengthAdjust="spacingAndGlyphs"><tspan stroke="#22335a" stroke-width="0.5" stroke-linejoin="round">Francja</tspan> 929 MW</text>
<text x="701" y="799.5" font-size="9.3" fill="#22335a" textLength="227" lengthAdjust="spacingAndGlyphs">Źródło: Raport Instytutu Energetyki Odnawialnej</text>
<text x="701" y="813" font-size="9.3" fill="#22335a" textLength="160.5" lengthAdjust="spacingAndGlyphs" font-style="italic">Rynek Fotowoltaiki w Polsce 2021</text>
</g>
<g id="part_icons">
<polygon points="749.5,43.2 759.8,43.2 734.7,80.1 761.9,80.3 728.2,122.6 746.3,87.1 720.7,87.1" fill="#1e2f53"/>
<path d="M741.3 79.7Q746.8 75.0 745.9 65.5" fill="none" stroke="#6aaa35" stroke-width="1.1"/>
<path d="M744.2 79.7Q746.3 77.1 747.9 76.3" fill="none" stroke="#6aaa35" stroke-width="1"/>
<path d="M733.5 45.3C740.5 45.5 747.9 52.9 746.3 66.2C738.9 64.5 732.1 56.1 733.5 45.3Z" fill="#7cb83f"/>
<path d="M733.5 45.3C740.5 45.5 747.9 52.9 746.3 66.2C744.2 58.2 740.0 50.8 733.5 45.3Z" fill="#8fc74a"/>
<path d="M747.4 76.7C748.4 69.7 754.7 66.4 762.5 68.7C761.1 75.5 754.7 79.2 747.4 76.7Z" fill="#7cb83f"/>
<path d="M747.4 76.7C752.6 71.8 757.9 69.7 762.5 68.7C754.7 66.4 748.4 69.7 747.4 76.7Z" fill="#8fc74a"/>
<polygon points="708.2,159.4 721.7,141.7 732.9,159.4 732.9,186.3 708.2,186.3" fill="#f1f1f1"/>
<rect x="732.9" y="159.0" width="38.0" height="27.3" fill="#e9e9e9"/>
<rect x="707.0" y="186.1" width="64.8" height="1.7" fill="#a4532f"/>
<polygon points="721.0,137.2 760.8,137.2 771.1,159.3 732.3,159.3" fill="#1f3d68"/>
<polygon points="721.0,137.2 723.9,139.5 711.0,159.7 708.0,159.7" fill="#1f3d68"/>
<polygon points="724.5,139.1 759.7,139.1 768.5,157.6 734.4,157.6" fill="#2b81a8"/>
<line x1="727.0" y1="143.7" x2="761.9" y2="143.7" stroke="#1f5f86" stroke-width="0.5"/>
<line x1="729.5" y1="148.3" x2="764.1" y2="148.3" stroke="#1f5f86" stroke-width="0.5"/>
<line x1="731.9" y1="153.0" x2="766.3" y2="153.0" stroke="#1f5f86" stroke-width="0.5"/>
<line x1="733.3" y1="139.1" x2="742.9" y2="157.6" stroke="#1f5f86" stroke-width="0.5"/>
<line x1="742.1" y1="139.1" x2="751.4" y2="157.6" stroke="#1f5f86" stroke-width="0.5"/>
<line x1="750.9" y1="139.1" x2="760.0" y2="157.6" stroke="#1f5f86" stroke-width="0.5"/>
<path d="M717.1 156.8Q720.6 151.0 724.0 156.8Z" fill="#a9a9a9"/>
<rect x="713.1" y="167.6" width="6.7" height="12.2" fill="#9e9e9e"/>
<rect x="722.9" y="167.6" width="6.1" height="12.2" fill="#9e9e9e"/>
<rect x="749.8" y="167.6" width="6.4" height="12.2" fill="#9e9e9e"/>
<rect x="758.9" y="167.6" width="6.3" height="12.2" fill="#9e9e9e"/>
<rect x="738.2" y="169.7" width="6.3" height="16.4" fill="#7db432"/>
<polygon points="766.7,136.7 771.8,134.5 766.7,132.2" fill="#ffb536"/>
<polygon points="762.8,141.6 768.0,143.7 765.9,138.5" fill="#ffb536"/>
<polygon points="756.5,142.4 758.7,147.6 761.0,142.4" fill="#ffb536"/>
<polygon points="751.6,138.5 749.5,143.7 754.7,141.6" fill="#ffb536"/>
<polygon points="750.8,132.2 745.7,134.5 750.8,136.7" fill="#ffb536"/>
<polygon points="754.7,127.3 749.5,125.2 751.6,130.4" fill="#ffb536"/>
<polygon points="761.0,126.5 758.7,121.4 756.5,126.5" fill="#ffb536"/>
<polygon points="765.9,130.4 768.0,125.2 762.8,127.3" fill="#ffb536"/>
<circle cx="758.7" cy="134.5" r="6.7" fill="#ff9c0a"/>
<rect x="736.5" y="279.5" width="9.4" height="7.7" fill="#707070"/>
<rect x="733.2" y="286.6" width="15.4" height="3.3" fill="#606060"/>
<polygon points="714.5,242.9 766.4,242.9 771.3,280.3 710.3,280.3" fill="#24477d"/>
<polygon points="716.8,245.4 764.5,245.4 768.8,277.9 712.9,277.9" fill="#3388b0"/>
<line x1="724.8" y1="245.4" x2="722.2" y2="277.9" stroke="#246f97" stroke-width="0.7"/>
<line x1="732.7" y1="245.4" x2="731.5" y2="277.9" stroke="#246f97" stroke-width="0.7"/>
<line x1="740.7" y1="245.4" x2="740.8" y2="277.9" stroke="#246f97" stroke-width="0.7"/>
<line x1="748.6" y1="245.4" x2="750.1" y2="277.9" stroke="#246f97" stroke-width="0.7"/>
<line x1="756.6" y1="245.4" x2="759.4" y2="277.9" stroke="#246f97" stroke-width="0.7"/>
<line x1="716.1" y1="251.9" x2="765.4" y2="251.9" stroke="#246f97" stroke-width="0.7"/>
<line x1="715.3" y1="258.4" x2="766.2" y2="258.4" stroke="#246f97" stroke-width="0.7"/>
<line x1="714.5" y1="264.9" x2="767.1" y2="264.9" stroke="#246f97" stroke-width="0.7"/>
<line x1="713.7" y1="271.4" x2="767.9" y2="271.4" stroke="#246f97" stroke-width="0.7"/>
<polygon points="773.8,240.4 780.1,237.6 773.8,234.9" fill="#ffb536"/>
<polygon points="769.1,246.2 775.5,248.8 772.9,242.4" fill="#ffb536"/>
<polygon points="761.6,247.1 764.4,253.4 767.1,247.1" fill="#ffb536"/>
<polygon points="755.8,242.4 753.2,248.8 759.6,246.2" fill="#ffb536"/>
<polygon points="754.9,234.9 748.6,237.6 754.9,240.4" fill="#ffb536"/>
<polygon points="759.6,229.0 753.2,226.5 755.8,232.9" fill="#ffb536"/>
<polygon points="767.1,228.2 764.4,221.9 761.6,228.2" fill="#ffb536"/>
<polygon points="772.9,232.9 775.5,226.5 769.1,229.0" fill="#ffb536"/>
<circle cx="764.4" cy="237.6" r="8.2" fill="#ff9c0a"/>
<path d="M705.0 363.6C705.0 357.6 709.7 353.8 715.8 352.9L727.9 352.9C733.1 354.3 735.9 359.0 735.9 363.6C735.9 369.7 728.9 372.7 720.5 372.7C711.1 372.7 705.0 369.7 705.0 363.6Z" fill="#1f6b94"/>
<polygon points="715.8,353.2 727.2,353.2 720.5,365.5" fill="#b9dae9"/>
<rect x="717.9" y="348.7" width="7.2" height="5.1" fill="#eeb57d"/>
<path d="M714.3 341.3C714.3 346.2 717.0 351.5 721.4 351.5C725.8 351.5 728.5 346.2 728.5 341.3C728.5 335.5 725.7 333.7 721.4 333.7C717.1 333.7 714.3 335.5 714.3 341.3Z" fill="#f3c390"/>
<path d="M721.4 333.7C725.7 333.7 728.5 335.5 728.5 341.3C728.5 346.2 725.8 351.5 721.4 351.5Z" fill="#eeb57d" opacity="0.55"/>
<path d="M714.1 342.3C713.4 337.5 713.7 333.7 715.8 331.8C718.1 330.2 722.8 330.2 725.6 331.8C728.4 333.7 729.6 337.5 729.1 342.3C728.7 340.1 728.1 338.4 727.5 337.0C724.2 337.5 718.6 337.0 715.6 335.4C714.8 337.5 714.4 339.5 714.1 342.3Z" fill="#6d3f22"/>
<path d="M745.7 363.6C745.7 357.6 749.4 354.3 754.1 352.9L766.3 352.9C771.9 353.8 776.1 357.6 776.1 363.6C776.1 369.7 770.0 372.7 760.9 372.7C752.3 372.7 745.7 369.7 745.7 363.6Z" fill="#1f6b94"/>
<polygon points="753.9,353.2 765.5,353.2 760.5,365.3" fill="#b9dae9"/>
<rect x="756.7" y="348.7" width="7.2" height="5.1" fill="#eeb57d"/>
<path d="M752.9 341.3C752.9 346.2 755.7 351.5 760.2 351.5C764.7 351.5 767.5 346.2 767.5 341.3C767.5 335.5 764.6 333.7 760.2 333.7C755.8 333.7 752.9 335.5 752.9 341.3Z" fill="#f3c390"/>
<path d="M760.2 333.7C764.6 333.7 767.5 335.5 767.5 341.3C767.5 346.2 764.7 351.5 760.2 351.5Z" fill="#eeb57d" opacity="0.55"/>
<path d="M752.9 342.3C752.3 337.5 752.5 333.7 754.6 331.8C756.9 330.2 761.6 330.2 764.4 331.8C767.2 333.7 768.4 337.5 767.9 342.3C767.5 340.1 766.9 338.4 766.3 337.0C763.0 337.5 757.4 337.0 754.4 335.4C753.7 337.5 753.2 339.5 752.9 342.3Z" fill="#6d3f22"/>
<path d="M720.5 367.4C720.5 360.8 726.1 356.2 733.5 354.8L748.0 354.8C756.0 356.2 760.9 360.8 760.9 367.4C760.9 376.7 751.3 381.6 740.6 381.6C729.8 381.6 720.5 376.7 720.5 367.4Z" fill="#1f6b94"/>
<polygon points="732.8,355.0 748.7,355.0 740.6,374.9" fill="#b9dae9"/>
<rect x="735.4" y="352.0" width="10.5" height="4.7" fill="#eeb57d"/>
<path d="M731.2 341.8C731.2 348.0 734.8 354.8 740.6 354.8C746.4 354.8 749.9 348.0 749.9 341.8C749.9 334.6 746.2 332.3 740.6 332.3C735.0 332.3 731.2 334.6 731.2 341.8Z" fill="#f3c390"/>
<path d="M740.6 332.3C746.2 332.3 749.9 334.6 749.9 341.8C749.9 348.0 746.4 354.8 740.6 354.8Z" fill="#eeb57d" opacity="0.55"/>
<path d="M731.2 342.3C730.6 336.5 730.9 330.9 733.5 328.1C736.4 325.8 742.0 325.5 745.7 327.6C749.4 330.0 751.5 334.6 750.7 342.3C750.2 339.3 749.6 337.5 748.7 335.8C744.8 336.3 737.3 335.6 733.1 333.7C732.1 336.0 731.7 338.9 731.2 342.3Z" fill="#6d3f22"/>
<line x1="740.6" y1="374.9" x2="740.6" y2="381.4" stroke="#2b7ba3" stroke-width="0.5"/>
</g>
<g id="part_flags">
<defs><clipPath id="fc0"><circle cx="1051.6" cy="538.2" r="17.1"/></clipPath><clipPath id="fc1"><circle cx="1051.6" cy="581.6" r="17.1"/></clipPath><clipPath id="fc2"><circle cx="1051.6" cy="626.3" r="17.1"/></clipPath><clipPath id="fc3"><circle cx="1051.6" cy="669.7" r="17.1"/></clipPath><clipPath id="fc4"><circle cx="1051.6" cy="711.8" r="17.1"/></clipPath></defs>
<g clip-path="url(#fc0)"><rect x="1033.5" y="521.10" width="36.2" height="11.70" fill="#26221f"/><rect x="1033.5" y="532.50" width="36.2" height="11.70" fill="#e5202a"/><rect x="1033.5" y="543.90" width="36.2" height="11.70" fill="#ffd60a"/></g>
<g clip-path="url(#fc1)"><rect x="1033.5" y="564.50" width="36.2" height="11.70" fill="#b62a33"/><rect x="1033.5" y="575.90" width="36.2" height="11.70" fill="#ffffff"/><rect x="1033.5" y="587.30" width="36.2" height="11.70" fill="#2a4fa2"/></g>
<g clip-path="url(#fc2)"><rect x="1033.5" y="609.20" width="36.2" height="8.85" fill="#d3202f"/><rect x="1033.5" y="617.75" width="36.2" height="17.40" fill="#fdc60f"/><rect x="1033.5" y="634.85" width="36.2" height="8.85" fill="#d3202f"/><rect x="1044.7" y="622.9" width="1.7" height="7.6" fill="#d8d8d8"/><rect x="1054.8" y="622.9" width="1.7" height="7.6" fill="#d8d8d8"/><rect x="1044.3" y="625.7" width="2.5" height="1.6" fill="#c8313a"/><rect x="1054.4" y="625.7" width="2.5" height="1.6" fill="#c8313a"/><path d="M1047.2,622.3 h6.8 v5.2 q0,3.6 -3.4,3.6 q-3.4,0 -3.4,-3.6 z" fill="#b8433a"/><rect x="1047.2" y="626.1" width="3.4" height="3.2" fill="#d8a25a"/><rect x="1050.6" y="622.3" width="3.4" height="3.8" fill="#e0c9b0"/><rect x="1047.8" y="619.7" width="5.6" height="2.4" rx="1" fill="#c23b33"/></g>
<g clip-path="url(#fc3)"><rect x="1033.5" y="652.60" width="36.2" height="17.40" fill="#ffffff"/><rect x="1033.5" y="669.70" width="36.2" height="17.40" fill="#df2239"/></g>
<g clip-path="url(#fc4)"><rect x="1034.50" y="693.7" width="11.70" height="36.2" fill="#2c4c9c"/><rect x="1045.90" y="693.7" width="11.70" height="36.2" fill="#ffffff"/><rect x="1057.30" y="693.7" width="11.70" height="36.2" fill="#e42a36"/></g>
</g>
</svg>
</body></html>
